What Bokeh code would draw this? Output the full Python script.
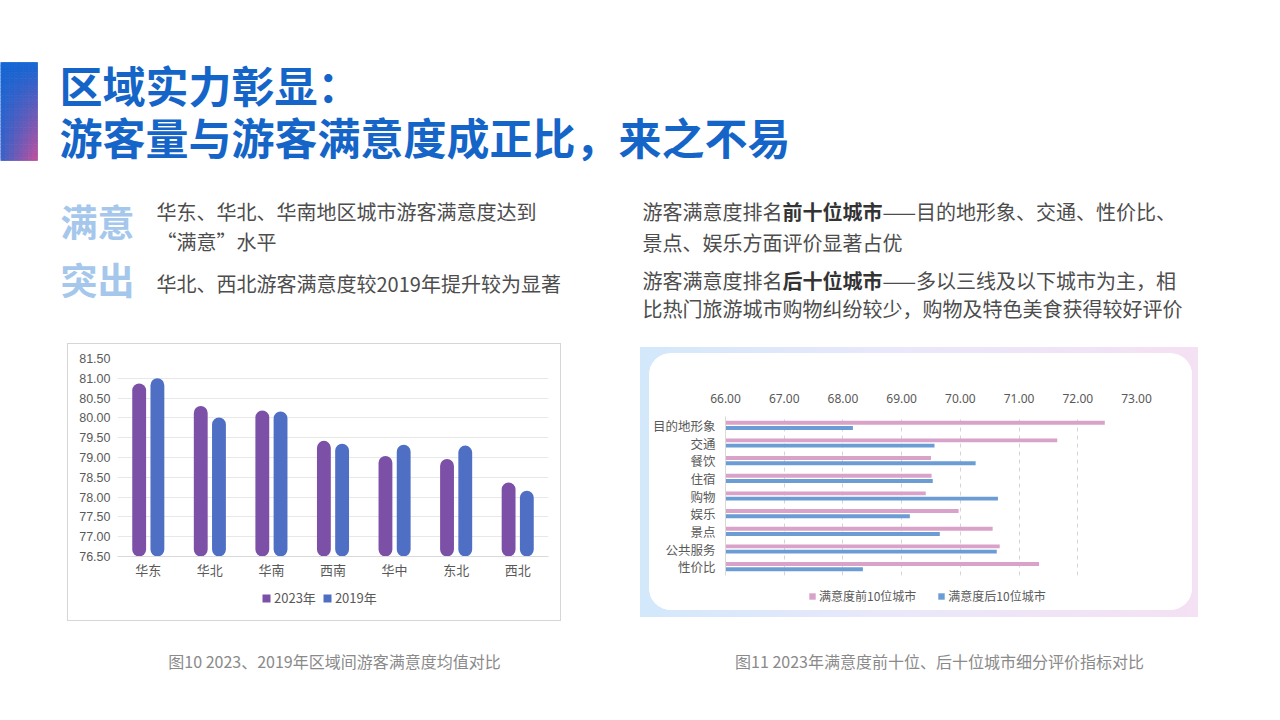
from bokeh.plotting import figure
from bokeh.models import (Range1d, FactorRange, ColumnDataSource, FixedTicker,
                          NumeralTickFormatter, Legend, LegendItem, Spacer)
from bokeh.layouts import column, row
from bokeh.transform import dodge
from bokeh.core.properties import value
from bokeh.embed import file_html
from bokeh.resources import INLINE

CJK = "Noto Sans CJK SC"

# ---------------- data ----------------
regions = ["华东", "华北", "华南", "西南", "华中", "东北", "西北"]
sat_2023 = [80.87, 80.30, 80.19, 79.42, 79.04, 78.96, 78.37]
sat_2019 = [81.00, 80.01, 80.16, 79.35, 79.32, 79.30, 78.16]
y_ticks_left = [76.5, 77.0, 77.5, 78.0, 78.5, 79.0, 79.5, 80.0, 80.5, 81.0, 81.5]
series_left = ["2023年", "2019年"]
colors_left = ["#7b50a6", "#4f6fc5"]

indicators = ["目的地形象", "交通", "餐饮", "住宿", "购物", "娱乐", "景点", "公共服务", "性价比"]
top10_cities = [72.46, 71.65, 69.50, 69.51, 69.41, 69.97, 70.55, 70.67, 71.34]
bottom10_cities = [68.17, 69.56, 70.26, 69.53, 70.64, 69.14, 69.65, 70.62, 68.34]
x_ticks_right = [66, 67, 68, 69, 70, 71, 72, 73]
series_right = ["满意度前10位城市", "满意度后10位城市"]
colors_right = ["#d8a2c9", "#6b9cd4"]

title_lines = ["区域实力彰显：", "游客量与游客满意度成正比，来之不易"]
caption_left = "图10 2023、2019年区域间游客满意度均值对比"
caption_right = "图11 2023年满意度前十位、后十位城市细分评价指标对比"

# ---------------- top (title + texts) ----------------
W = 1280
TH = 338
top = figure(width=W, height=TH, x_range=Range1d(0, W), y_range=Range1d(TH, 0),
             output_backend="svg", toolbar_location=None, min_border=0,
             x_axis_location=None, y_axis_location=None)
top.grid.visible = False
top.outline_line_color = None


def hex2rgb(h):
    h = h.lstrip("#")
    return [int(h[i:i + 2], 16) for i in (0, 2, 4)]


def mix(c1, c2, t):
    a, b = hex2rgb(c1), hex2rgb(c2)
    return "#%02x%02x%02x" % tuple(int(round(a[i] + (b[i] - a[i]) * t)) for i in range(3))


# gradient side bar
ncol, nrow = 8, 30
bx0, bx1, by0, by1 = 0, 37, 62, 160
L, R, T, B, C = [], [], [], [], []
for i in range(ncol):
    for j in range(nrow):
        u = (i + 0.5) / ncol
        v = (j + 0.5) / nrow
        t = v * (0.2 + 0.8 * u)
        L.append(bx0 + (bx1 - bx0) * i / ncol)
        R.append(bx0 + (bx1 - bx0) * (i + 1) / ncol)
        T.append(by0 + (by1 - by0) * j / nrow)
        B.append(by0 + (by1 - by0) * (j + 1) / nrow)
        C.append(mix("#1466d4", "#c2509b", t))
top.quad(left=L, right=R, top=T, bottom=B, fill_color=C, line_color=C, line_width=0.8)

top.text(x=[59, 59], y=[83, 135], text=title_lines, text_font=value(CJK),
         text_font_size="43px", text_font_style="bold", text_color="#1565c8",
         text_baseline="middle", text_align="left")

# big light words
top.text(x=[60, 60], y=[220, 278], text=["满意", "突出"], text_font=value(CJK),
         text_font_size="37px", text_font_style="bold", text_color="#a6c7ec",
         text_baseline="middle", text_align="left")

left_lines = ["华东、华北、华南地区城市游客满意度达到", "“满意”水平", "华北、西北游客满意度较2019年提升较为显著"]
top.text(x=[156, 156, 156], y=[211, 241, 283], text=left_lines, text_font=value(CJK),
         text_font_size="20px", text_color="#4d4d4d",
         text_baseline="middle", text_align="left")

# right texts with bold segments
fs = 20
rx = 642
segs = [
    (211, [("游客满意度排名", False), ("前十位城市", True), ("——目的地形象、交通、性价比、", False)]),
    (242, [("景点、娱乐方面评价显著占优", False)]),
    (280, [("游客满意度排名", False), ("后十位城市", True), ("——多以三线及以下城市为主，相", False)]),
    (308, [("比热门旅游城市购物纠纷较少，购物及特色美食获得较好评价", False)]),
]
nx, ny, nt, bxl, byl, btl = [], [], [], [], [], []
for yy, parts in segs:
    cx = rx
    for txt, bold in parts:
        if bold:
            bxl.append(cx); byl.append(yy); btl.append(txt)
        else:
            nx.append(cx); ny.append(yy); nt.append(txt)
        cx += fs * len(txt)
top.text(x=nx, y=ny, text=nt, text_font=value(CJK), text_font_size="20px",
         text_color="#4d4d4d", text_baseline="middle", text_align="left")
top.text(x=bxl, y=byl, text=btl, text_font=value(CJK), text_font_size="20px",
         text_font_style="bold", text_color="#333333", text_baseline="middle", text_align="left")


def legend_fig(width, height, labels, colors, loc, gw, spacing, font_size):
    # small figure that only carries a legend (its frame is aligned with the chart above)
    f = figure(width=width, height=height, x_range=Range1d(0, 1), y_range=Range1d(0, 1),
               output_backend="svg", toolbar_location=None, min_border=0,
               x_axis_location=None, y_axis_location=None)
    f.grid.visible = False
    f.outline_line_color = None
    f.border_fill_color = "white"
    f.background_fill_color = "white"
    items = []
    for lab, col in zip(labels, colors):
        # proxy glyph kept outside the visible range, only used by the legend
        r = f.quad(left=[5], right=[6], top=[6], bottom=[5], fill_color=col, line_color=None)
        items.append(LegendItem(label=lab, renderers=[r]))
    leg = Legend(items=items, orientation="horizontal", location=loc, padding=0, margin=0,
                 spacing=spacing, glyph_width=gw, glyph_height=gw, label_height=14,
                 label_standoff=3, border_line_color=None, background_fill_alpha=0,
                 label_text_font=CJK, label_text_font_size=font_size,
                 label_text_color="#595959", label_text_baseline="middle")
    f.add_layout(leg)
    return f


# ---------------- left chart ----------------
src_l = ColumnDataSource(dict(region=regions, s23=sat_2023, s19=sat_2019))
lf = figure(width=492, height=240, x_range=FactorRange(*regions), y_range=Range1d(76.5, 81.5),
            output_backend="svg", toolbar_location=None,
            min_border_left=49, min_border_right=12, min_border_top=14, min_border_bottom=28)
lf.outline_line_color = None
lf.border_fill_color = "white"
lf.xgrid.visible = False
lf.ygrid.grid_line_color = "#e8e8e8"
lf.yaxis.ticker = FixedTicker(ticks=y_ticks_left)
lf.yaxis.formatter = NumeralTickFormatter(format="0.00")
lf.yaxis.axis_line_color = None
lf.yaxis.major_tick_line_color = None
lf.yaxis.major_tick_out = 0
lf.yaxis.minor_tick_line_color = None
lf.yaxis.major_label_standoff = 7
lf.yaxis.major_label_text_font = "Liberation Sans"
lf.yaxis.major_label_text_font_size = "12.5px"
lf.yaxis.major_label_text_color = "#595959"
lf.xaxis.axis_line_color = "#d9d9d9"
lf.xaxis.major_tick_line_color = None
lf.xaxis.major_tick_out = 0
lf.xaxis.minor_tick_line_color = None
lf.xaxis.major_label_standoff = 3
lf.xaxis.major_label_text_font = CJK
lf.xaxis.major_label_text_font_size = "13px"
lf.xaxis.major_label_text_color = "#595959"

lf.vbar(x=dodge("region", -0.148, range=lf.x_range), top="s23", bottom=76.5, width=0.225,
        source=src_l, fill_color=colors_left[0], line_color=None, border_radius=7)
lf.vbar(x=dodge("region", 0.148, range=lf.x_range), top="s19", bottom=76.5, width=0.225,
        source=src_l, fill_color=colors_left[1], line_color=None, border_radius=7)

lleg = legend_fig(492, 36, series_left, colors_left, (144, 13), 10, 6, "13px")

lwrap = column(Spacer(width=494, height=1),
               row(Spacer(width=1, height=276),
                   column(lf, lleg, styles={"background-color": "white"}),
                   Spacer(width=1, height=276)),
               Spacer(width=494, height=1),
               styles={"background": "#d6d6d6"})

# ---------------- right chart ----------------
src_r = ColumnDataSource(dict(ind=indicators, t10=top10_cities, b10=bottom10_cities))
rf = figure(width=543, height=225, x_range=Range1d(66, 73), y_range=FactorRange(*reversed(indicators)),
            x_axis_location="above", output_backend="svg", toolbar_location=None,
            min_border_left=74, min_border_right=56, min_border_top=63, min_border_bottom=3)
rf.outline_line_color = None
rf.background_fill_color = "white"
rf.border_fill_color = "white"
rf.ygrid.visible = False
rf.xgrid.grid_line_color = "#d4d4d4"
rf.xgrid.grid_line_dash = "4 4"
rf.xaxis.ticker = FixedTicker(ticks=x_ticks_right)
rf.xaxis.formatter = NumeralTickFormatter(format="0.00")
rf.xaxis.axis_line_color = None
rf.xaxis.major_tick_line_color = None
rf.xaxis.major_tick_out = 0
rf.xaxis.minor_tick_line_color = None
rf.xaxis.major_label_standoff = 14
rf.xaxis.major_label_text_font = "Noto Sans"
rf.xaxis.major_label_text_font_size = "12px"
rf.xaxis.major_label_text_color = "#595959"
rf.yaxis.axis_line_color = "#d9d9d9"
rf.yaxis.major_tick_line_color = None
rf.yaxis.major_tick_out = 0
rf.yaxis.minor_tick_line_color = None
rf.yaxis.major_label_standoff = 10
rf.yaxis.major_label_text_font = CJK
rf.yaxis.major_label_text_font_size = "12.5px"
rf.yaxis.major_label_text_color = "#595959"

rf.hbar(y=dodge("ind", 0.15, range=rf.y_range), right="t10", left=66, height=0.22,
        source=src_r, fill_color=colors_right[0], line_color=None)
rf.hbar(y=dodge("ind", -0.15, range=rf.y_range), right="b10", left=66, height=0.22,
        source=src_r, fill_color=colors_right[1], line_color=None)

rleg = legend_fig(543, 32, series_right, colors_right, (83, 6), 8, 21, "12px")

rinner = column(rf, rleg, styles={"border-radius": "22px", "overflow": "hidden",
                                  "background-color": "white"})

rwrap = column(Spacer(width=558, height=6),
               row(Spacer(width=9, height=257), rinner, Spacer(width=6, height=257)),
               Spacer(width=558, height=7),
               styles={"background": "linear-gradient(90deg, #d3e8fb 0%, #e9e8fa 45%, #f4e1f3 100%)"})

middle = row(Spacer(width=67, height=290),
             column(Spacer(width=494, height=5), lwrap),
             Spacer(width=79, height=290),
             column(Spacer(width=558, height=9), rwrap))

# ---------------- captions ----------------
BH = 92
bot = figure(width=W, height=BH, x_range=Range1d(0, W), y_range=Range1d(BH, 0),
             output_backend="svg", toolbar_location=None, min_border=0,
             x_axis_location=None, y_axis_location=None)
bot.grid.visible = False
bot.outline_line_color = None
bot.text(x=[334, 939], y=[32, 32], text=[caption_left, caption_right], text_font=value(CJK),
         text_font_size="16px", text_color="#8a8a8a", text_baseline="middle", text_align="center")

page = column(top, middle, bot)
open("out.html", "w").write(file_html(page, INLINE))
